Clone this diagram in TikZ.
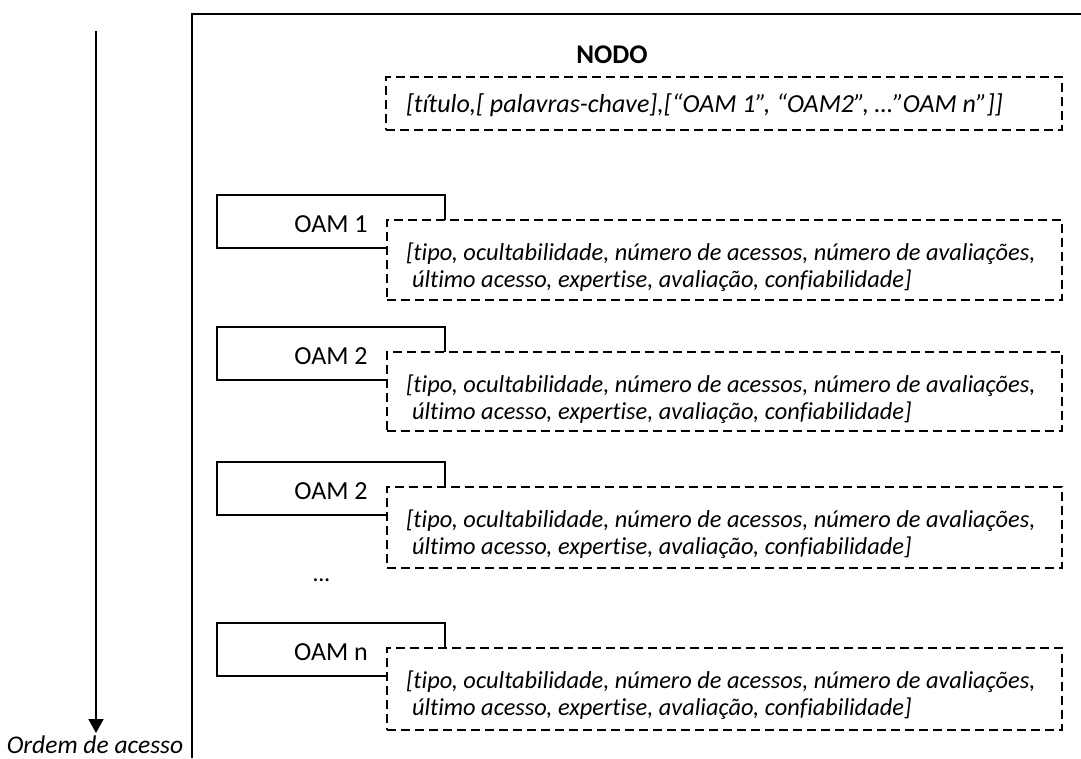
\documentclass[tikz,border=0pt]{standalone}
\usepackage{fontspec}
\setmainfont{Carlito}[Ligatures=NoCommon]
\usetikzlibrary{arrows.meta}
\begin{document}
\begin{tikzpicture}[x=1pt,y=-1pt,
  every node/.style={inner sep=0pt,outer sep=0pt},
  frame/.style={line width=2pt},
  oambox/.style={draw,line width=1.6pt,minimum width=228pt,minimum height=53pt,anchor=north west},
  infobox/.style={draw,fill=white,line width=1.5pt,dash pattern=on 9pt off 5pt,anchor=north west},
  oamlabel/.style={font=\fontsize{26}{30}\selectfont,anchor=base},
  infotext/.style={font=\fontsize{24.4}{27}\selectfont\itshape,anchor=base west},
]
\useasboundingbox (0,0) rectangle (1081,758);

% open frame of the node
\coordinate (fbl) at (192,758);
\coordinate (ftl) at (192,14);
\coordinate (ftr) at (1081,14);
\draw[frame] (fbl) -- (ftl) -- (ftr);

% access-order arrow
\coordinate (arrowtop) at (96,31);
\coordinate (arrowtip) at (96,733);
\node[font=\fontsize{25.5}{30}\selectfont\itshape,anchor=base] (ordem) at (95,753) {Ordem de acesso};
\draw[line width=2pt,-{Triangle[width=15pt,length=14pt]}] (arrowtop) -- (arrowtip);

% header
\node[font=\fontsize{27}{32}\selectfont\bfseries] (nodo) at (612,55) {NODO};
\node[infobox,minimum width=676pt,minimum height=53pt] (header) at (386,77) {};
\node[infotext,font=\fontsize{26}{30}\selectfont\itshape] (headertext) at (406,112)
  {[título,[ palavras-chave],[“OAM 1”, “OAM2”, …”OAM n”]]};

% one entry: solid tab, label, dashed attribute box
\foreach \n/\lab/\t/\h in {1/OAM 1/195/80, 2/OAM 2/327/79, 3/OAM 2/462/81, 4/OAM n/623/82}{
  \node[oambox] (oam\n) at (217,\t) {};
  \node[oamlabel] (oamlab\n) at (331,\t+37) {\lab};
  \node[infobox,minimum width=675pt,minimum height=\h pt] (info\n) at (387,\t+25) {};
  \node[infotext] (infoa\n) at (406,\t+65)
    {[tipo, ocultabilidade, número de acessos, número de avaliações,};
  \node[infotext] (infob\n) at (412,\t+92)
    {último acesso, expertise, avaliação, confiabilidade]};
}

\node[font=\fontsize{24}{27}\selectfont\itshape] (dots) at (322,580) {…};
\end{tikzpicture}
\end{document}
